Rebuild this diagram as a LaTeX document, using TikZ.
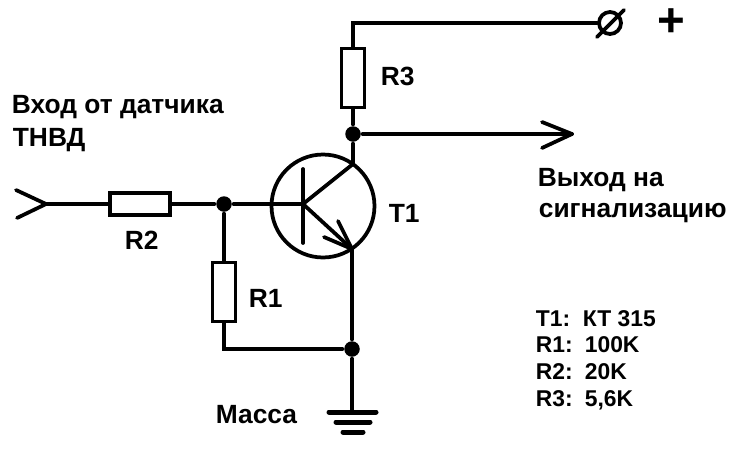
\documentclass[tikz,border=0pt]{standalone}
\usepackage{fontspec}
\setmainfont{Liberation Sans}

\begin{document}
\begin{tikzpicture}[x=0.02cm, y=-0.02cm, line width=0.075cm, line cap=round,
	dot/.style={circle,fill=black,draw=none,inner sep=0,minimum size=0.31cm},
	resv/.style={rectangle,draw,fill=white,inner sep=0,minimum width=0.46cm,minimum height=1.18cm},
	resh/.style={rectangle,draw,fill=white,inner sep=0,minimum width=1.2cm,minimum height=0.44cm},
	lbl/.style={anchor=base west,inner sep=0,font=\bfseries\fontsize{15}{18}\selectfont},
	val/.style={anchor=base west,inner sep=0,font=\bfseries\fontsize{13}{15}\selectfont},
	gnd/.style={line width=0.1cm}]

	\useasboundingbox (0,0) rectangle (750,467);

	% parts
	\node (T) at (323,206) [circle,draw,inner sep=0,minimum size=2.06cm] {};
	\node (P) at (610,23) [circle,draw,inner sep=0,minimum size=0.44cm] {};
	\node (R1) at (224,292) [resv] {};
	\node (R2) at (140,204) [resh] {};
	\node (R3) at (353,78) [resv] {};

	% junctions
	\node (JA) at (224,204) [dot] {};
	\node (JB) at (353,134) [dot] {};
	\node (JC) at (352,349) [dot] {};

	% free ends
	\coordinate (IN) at (46,204);
	\coordinate (INa) at (16,190);
	\coordinate (INb) at (17,218);
	\coordinate (OUT) at (572,134);
	\coordinate (OUTa) at (542,122);
	\coordinate (OUTb) at (542,148);
	\coordinate (Pa) at (597,37);
	\coordinate (Pb) at (624,10);
	\coordinate (B) at (303,204);
	\coordinate (Ba) at (303,169);
	\coordinate (Bb) at (303,243);
	\coordinate (C) at (353,164);
	\coordinate (E) at (352,249);
	\coordinate (Ea) at (338,221);
	\coordinate (Eb) at (324,237);
	\coordinate (G) at (352,412);
	\coordinate (GAl) at (329,412);
	\coordinate (GAr) at (376,412);
	\coordinate (GBl) at (336,422);
	\coordinate (GBr) at (370,422);
	\coordinate (GCl) at (343,432);
	\coordinate (GCr) at (363,432);

	% wires
	\draw[-] (INa) to (IN);
	\draw[-] (INb) to (IN);
	\draw[-] (IN) to (R2);
	\draw[-] (R2) to (JA);
	\draw[-] (JA) to (B);
	\draw[-] (JA) to (R1);
	\draw[-] (R1) |- (JC);
	\draw[-] (Ba) to (Bb);
	\draw[-] (B) to (C);
	\draw[-] (B) to (E);
	\draw[-] (Ea) to (E);
	\draw[-] (Eb) to (E);
	\draw[-] (C) to (JB);
	\draw[-] (JB) to (R3);
	\draw[-] (R3) |- (P);
	\draw[-] (Pa) to (Pb);
	\draw[-] (JB) to (OUT);
	\draw[-] (OUTa) to (OUT);
	\draw[-] (OUTb) to (OUT);
	\draw[-] (E) to (JC);
	\draw[-] (JC) to (G);
	\draw[gnd] (GAl) to (GAr);
	\draw[gnd] (GBl) to (GBr);
	\draw[gnd] (GCl) to (GCr);

	% labels
	\node (Lin) at (10,113) [lbl] {Вход от датчика};
	\node (Lpump) at (11,146) [lbl] {ТНВД};
	\node (Lout) at (536,186) [lbl] {Выход на};
	\node (Lsig) at (537,217) [lbl] {сигнализацию};
	\node (Lplus) at (656,36) [lbl] {\fontsize{27}{27}\selectfont +};
	\node (LR3) at (379,85) [lbl] {R3};
	\node (LT) at (387,222) [lbl] {T1};
	\node (LR2) at (123,249) [lbl] {R2};
	\node (LR1) at (247,307) [lbl] {R1};
	\node (Lgnd) at (214,423) [lbl] {Масса};

	% values
	\node (VTa) at (534,326) [val] {T1:};
	\node (VTb) at (581,326) [val] {КТ 315};
	\node (VAa) at (534,352) [val] {R1:};
	\node (VAb) at (583,352) [val] {100K};
	\node (VBa) at (534,379) [val] {R2:};
	\node (VBb) at (583,379) [val] {20K};
	\node (VCa) at (534,406) [val] {R3:};
	\node (VCb) at (583,406) [val] {5,6K};

\end{tikzpicture}
\end{document}
